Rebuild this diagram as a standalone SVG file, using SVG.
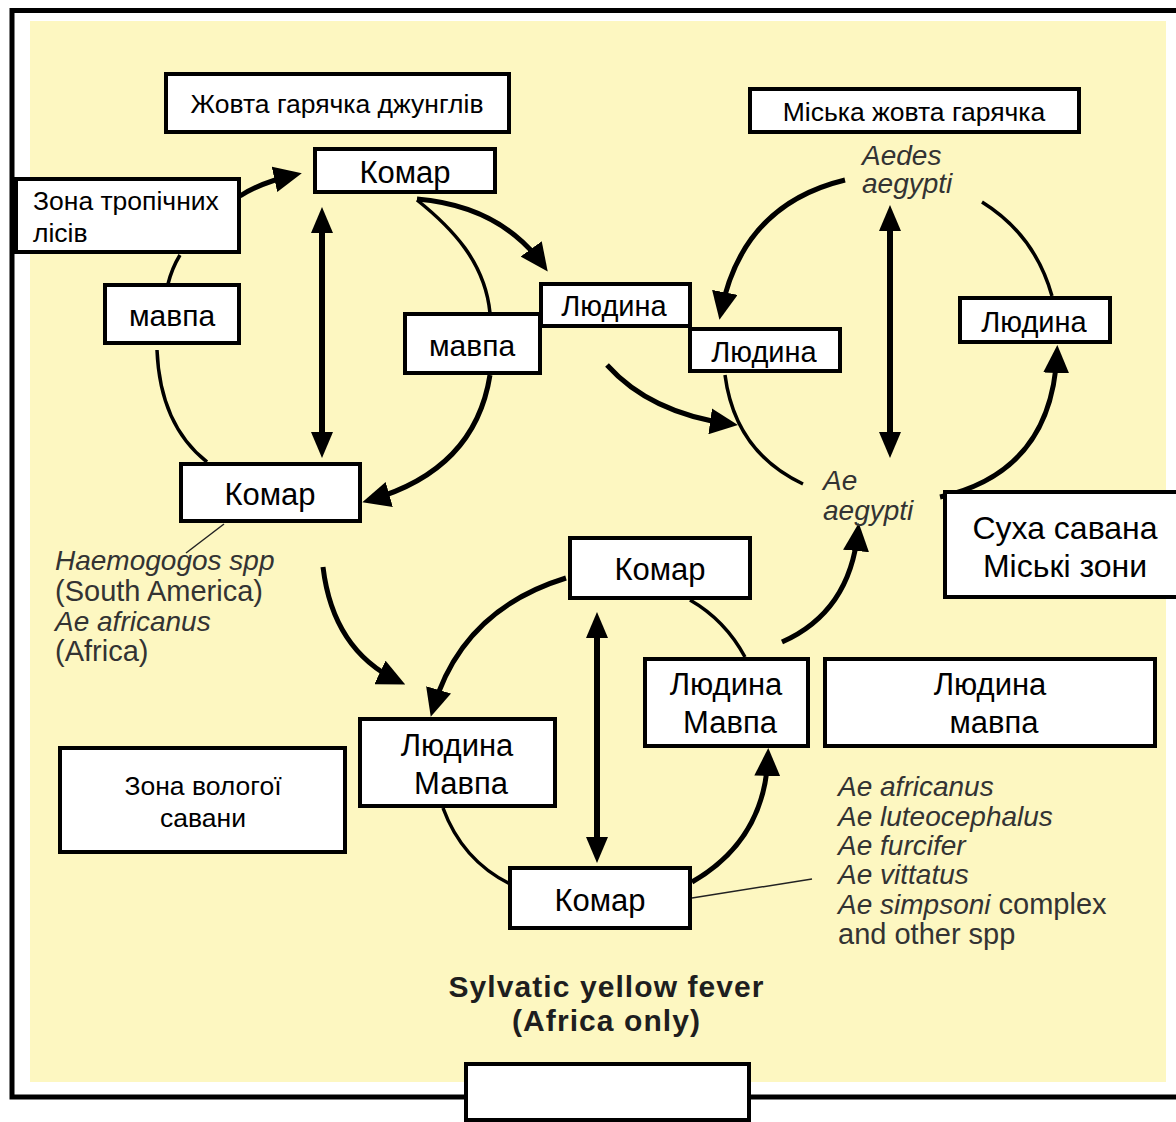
<svg xmlns="http://www.w3.org/2000/svg" width="1176" height="1122" viewBox="0 0 1176 1122">
<defs>
<style>
.box{fill:#fff;stroke:#000;stroke-width:4}
.t{font-family:"Liberation Sans",Arial,sans-serif;fill:#000;text-anchor:middle}
.tl{font-family:"Liberation Sans",Arial,sans-serif;fill:#000}
.arc{fill:none;stroke:#000;stroke-width:3.5}
.arr{fill:none;stroke:#000;stroke-width:5;marker-end:url(#ah)}
.dbl{fill:none;stroke:#000;stroke-width:6;marker-start:url(#ahv);marker-end:url(#ahv)}
.thin{fill:none;stroke:#222;stroke-width:1.5}
.g{font-family:"Liberation Sans",Arial,sans-serif;fill:#333;font-size:29px}
.i{font-style:italic;font-size:28px}
.ttl{font-family:"Liberation Sans",Arial,sans-serif;fill:#1e1e1e;font-size:30px;font-weight:bold;text-anchor:middle}
</style>
<marker id="ah" viewBox="0 0 28 26" refX="20" refY="13" markerWidth="28" markerHeight="26" markerUnits="userSpaceOnUse" orient="auto">
<path d="M0,0 L28,13 L0,26 z" fill="#000"/>
</marker>
<marker id="ahv" viewBox="0 0 26 22" refX="18" refY="11" markerWidth="26" markerHeight="22" markerUnits="userSpaceOnUse" orient="auto-start-reverse">
<path d="M0,0 L26,11 L0,22 z" fill="#000"/>
</marker>
</defs>

<rect x="0" y="0" width="1176" height="1122" fill="#fff"/>
<rect x="30" y="21" width="1136" height="1061" fill="#fdf7c1"/>
<g id="frame" fill="none" stroke="#000" stroke-width="5">
<path d="M1176,10.5 L12,10.5 L12,1097 L1176,1097"/>
</g>

<g id="connectors">
<!-- jungle cycle -->
<path class="arr" d="M240,196 Q262,182 294,175"/>
<path class="dbl" d="M322,215 L322,450"/>
<path class="arc" d="M180,255 Q172,268 168,284"/>
<path class="arc" d="M157,350 Q160,425 207,462"/>
<path class="arc" d="M417,200 C452,228 485,262 490,313"/>
<path class="arr" d="M490,375 Q475,470 370,500"/>
<path class="arr" d="M417,199 Q500,206 543,265"/>
<path class="arr" d="M607,365 Q650,413 730,424"/>
<!-- urban cycle -->
<path class="arr" d="M845,180 Q742,205 721,312"/>
<path class="arc" d="M725,375 Q735,452 803,484"/>
<path class="arr" d="M940,497 Q1052,472 1057,353"/>
<path class="arc" d="M1052,296 Q1035,235 982,202"/>
<path class="dbl" d="M890,213 L890,450"/>
<!-- sylvatic cycle -->
<path class="arr" d="M566,578 Q462,610 433,709"/>
<path class="arc" d="M443,808 Q462,860 510,884"/>
<path class="arr" d="M692,882 Q765,840 768,756"/>
<path class="arc" d="M745,657 Q725,620 690,600"/>
<path class="dbl" d="M597,620 L597,855"/>
<!-- cross arrows -->
<path class="arr" d="M323,567 Q333,650 398,681"/>
<path class="arr" d="M782,642 Q850,612 858,531"/>
<!-- pointer lines -->
<path class="thin" d="M224,524 L186,553"/>
<path class="thin" d="M692,898 L812,879"/>
</g>

<g id="n-jungle-title"><rect class="box" x="166" y="74" width="343" height="58"/><text class="t" x="337" y="113" font-size="26.5">Жовта гарячка джунглів</text></g>
<g id="n-komar-top"><rect class="box" x="315" y="149" width="180" height="43"/><text class="t" x="405" y="183" font-size="31">Комар</text></g>
<g id="n-tropical"><rect class="box" x="16" y="179" width="223" height="73"/><text class="tl" x="33" y="210" font-size="26.5">Зона тропічних</text><text class="tl" x="33" y="242" font-size="26.5">лісів</text></g>
<g id="n-mavpa-left"><rect class="box" x="105" y="285" width="134" height="58"/><text class="t" x="172" y="326" font-size="30">мавпа</text></g>
<g id="n-mavpa-mid"><rect class="box" x="405" y="314" width="135" height="59"/><text class="t" x="472" y="356" font-size="30">мавпа</text></g>
<g id="n-human-1"><rect class="box" x="541" y="284" width="149" height="42"/><text class="t" x="614" y="316" font-size="29">Людина</text></g>
<g id="n-human-2"><rect class="box" x="690" y="329" width="150" height="42"/><text class="t" x="764" y="362" font-size="29">Людина</text></g>
<g id="n-urban-title"><rect class="box" x="750" y="89" width="329" height="43"/><text class="t" x="914" y="121" font-size="26.5">Міська жовта гарячка</text></g>
<g id="n-human-right"><rect class="box" x="960" y="298" width="150" height="44"/><text class="t" x="1034" y="332" font-size="29">Людина</text></g>
<g id="n-komar-left"><rect class="box" x="181" y="464" width="179" height="57"/><text class="t" x="270" y="505" font-size="31">Комар</text></g>
<g id="n-komar-sylv-top"><rect class="box" x="570" y="538" width="180" height="60"/><text class="t" x="660" y="580" font-size="31">Комар</text></g>
<g id="n-dry-savanna"><rect class="box" x="945" y="492" width="240" height="105"/><text class="t" x="1065" y="539" font-size="32">Суха савана</text><text class="t" x="1065" y="577" font-size="32">Міські зони</text></g>
<g id="n-human-monkey-r"><rect class="box" x="645" y="659" width="163" height="87"/><text class="t" x="726" y="695" font-size="31">Людина</text><text class="t" x="730" y="733" font-size="31">Мавпа</text></g>
<g id="n-human-monkey-fr"><rect class="box" x="825" y="659" width="330" height="87"/><text class="t" x="990" y="695" font-size="31">Людина</text><text class="t" x="994" y="733" font-size="31">мавпа</text></g>
<g id="n-human-monkey-l"><rect class="box" x="360" y="719" width="195" height="87"/><text class="t" x="457" y="756" font-size="31">Людина</text><text class="t" x="461" y="794" font-size="31">Мавпа</text></g>
<g id="n-wet-savanna"><rect class="box" x="60" y="748" width="285" height="104"/><text class="t" x="203" y="795" font-size="26.5">Зона вологої</text><text class="t" x="203" y="827" font-size="26.5">савани</text></g>
<g id="n-komar-bottom"><rect class="box" x="510" y="868" width="180" height="60"/><text class="t" x="600" y="911" font-size="31">Комар</text></g>
<g id="n-empty"><rect class="box" x="466" y="1064" width="283" height="56"/></g>

<g id="labels">
<text class="g i" x="55" y="570">Haemogogos spp</text>
<text class="g" x="55" y="601">(South America)</text>
<text class="g i" x="55" y="631">Ae africanus</text>
<text class="g" x="55" y="661">(Africa)</text>
<text class="g i" x="862" y="165">Aedes</text>
<text class="g i" x="862" y="193">aegypti</text>
<text class="g i" x="823" y="490">Ae</text>
<text class="g i" x="823" y="520">aegypti</text>
<text class="g i" x="838" y="796">Ae africanus</text>
<text class="g i" x="838" y="826">Ae luteocephalus</text>
<text class="g i" x="838" y="855">Ae furcifer</text>
<text class="g i" x="838" y="884">Ae vittatus</text>
<text class="g" x="838" y="914"><tspan class="i">Ae simpsoni</tspan> complex</text>
<text class="g" x="838" y="944">and other spp</text>
<text class="ttl" x="606" y="997" textLength="315" lengthAdjust="spacing">Sylvatic yellow fever</text>
<text class="ttl" x="606" y="1031" textLength="188" lengthAdjust="spacing">(Africa only)</text>
</g>
</svg>
